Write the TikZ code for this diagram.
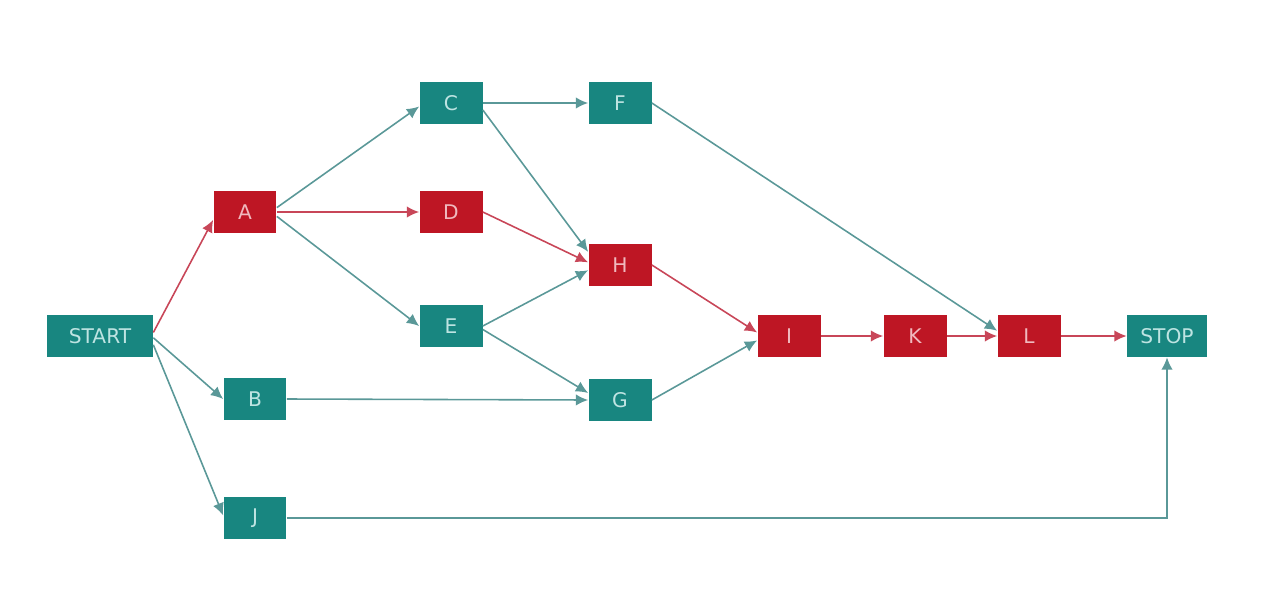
\documentclass[tikz,border=0pt]{standalone}
\usepackage{fontspec}
\setmainfont{DejaVu Sans}
\usetikzlibrary{shapes}
\usetikzlibrary{arrows,arrows.meta}
\definecolor{tealbox}{RGB}{24,134,128}
\definecolor{tealtext}{RGB}{190,228,226}
\definecolor{redbox}{RGB}{190,22,36}
\definecolor{redtext}{RGB}{240,185,190}
\definecolor{tealline}{RGB}{90,152,152}
\definecolor{redline}{RGB}{200,70,88}

\begin{document}
\begin{tikzpicture}[x=0.02cm,y=-0.02cm]
\tikzset{task/.style = {shape=rectangle,fill=tealbox,text=tealtext,inner sep=0pt,minimum width=1.26cm,minimum height=0.84cm,font=\fontsize{11.5}{13}\selectfont}}
\tikzset{crit/.style = {task,fill=redbox,text=redtext}}
\tikzset{edge/.style = {->,> = {Latex[length=7pt,width=6.5pt]},line width=0.9pt,tealline}}
\tikzset{critedge/.style = {edge,redline}}
\useasboundingbox (0,0) rectangle (1287,612);
% vertices
\node[task,minimum width=2.12cm] (start) at (100,336) {START};
\node[crit] (a) at (245,212) {A};
\node[task] (b) at (255,399) {B};
\node[task] (j) at (255,518) {J};
\node[task] (c) at (451,103) {C};
\node[crit] (d) at (451,212) {D};
\node[task] (e) at (451,326) {E};
\node[task] (f) at (620,103) {F};
\node[crit] (h) at (620,265) {H};
\node[task] (g) at (620,400) {G};
\node[crit] (i) at (789,336) {I};
\node[crit] (k) at (915,336) {K};
\node[crit] (l) at (1029,336) {L};
\node[task,minimum width=1.6cm] (stop) at (1167,336) {STOP};

%edges
\draw[critedge] ([yshift=2pt]start.east) to ([yshift=-4.5pt]a.west);
\draw[edge] ([yshift=-1pt]start.east) to (b.west);
\draw[edge] ([yshift=-5pt]start.east) to ([yshift=1.5pt]j.west);
\draw[edge] ([yshift=2.5pt]a.east) to ([yshift=-2pt]c.west);
\draw[critedge] (a.east) to (d.west);
\draw[edge] ([yshift=-2.5pt]a.east) to (e.west);
\draw[edge] (c.east) to (f.west);
\draw[edge] ([yshift=-4pt]c.east) to ([yshift=7.5pt]h.west);
\draw[critedge] (d.east) to ([yshift=1.5pt]h.west);
\draw[edge] (e.east) to ([yshift=-3pt]h.west);
\draw[edge] ([yshift=-2pt]e.east) to ([yshift=4pt]g.west);
\draw[edge] (b.east) to (g.west);
\draw[edge] (f.east) to ([yshift=3pt]l.west);
\draw[critedge] (h.east) to ([yshift=2pt]i.west);
\draw[edge] (g.east) to ([yshift=-2.5pt]i.west);
\draw[critedge] (i) to (k);
\draw[critedge] (k) to (l);
\draw[critedge] (l) to (stop);
\draw[edge] (j.east) -| (stop.south);

\end{tikzpicture}
\end{document}
